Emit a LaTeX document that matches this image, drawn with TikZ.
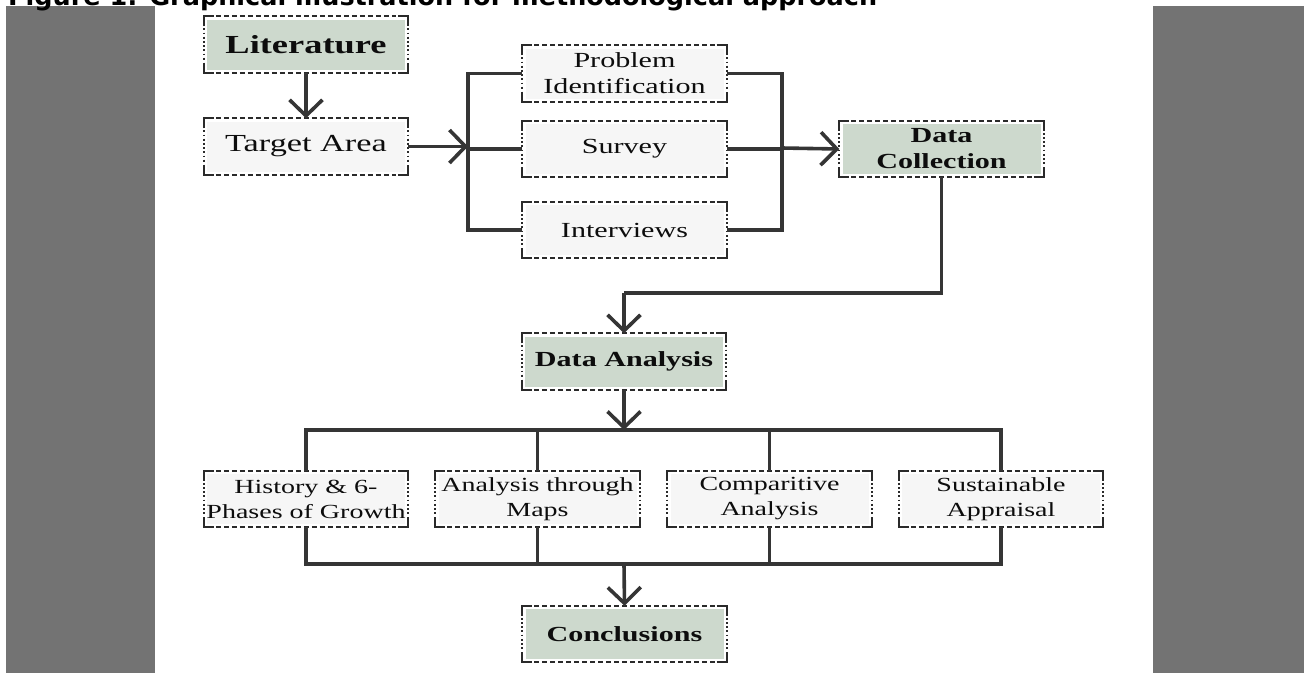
\documentclass[tikz,border=0pt]{standalone}
\usepackage{fontspec}
\setmainfont{Liberation Serif}[FakeStretch=1.4]
\newfontfamily\titlefont{DejaVu Sans}
\usetikzlibrary{arrows.meta,calc}
\definecolor{barc}{HTML}{737373}
\definecolor{lnc}{HTML}{353535}
\definecolor{frc}{HTML}{2A2A2A}
\definecolor{plainfill}{HTML}{F6F6F6}
\definecolor{keyfill}{HTML}{CDD9CD}
\definecolor{txtc}{HTML}{0D0D0D}
\tikzset{
  inbox/.style={path picture={\fill[#1] ($(path picture bounding box.south west)+(3pt,3pt)$) rectangle ($(path picture bounding box.north east)+(-3pt,-3pt)$);}},
  box/.style={minimum width=204pt, minimum height=56pt, inner sep=0pt, align=center,
    text=txtc, fill=white, font=\fontsize{21.5}{26}\selectfont},
  plainbox/.style={box, inbox=plainfill},
  keybox/.style={box, inbox=keyfill, font=\bfseries\fontsize{21.5}{26}\selectfont},
  ln/.style={draw=lnc, line width=3.6pt},
  arr/.style={ln, -{Straight Barb[length=16pt,width=33pt]}},
  frsolid/.style={draw=frc, line width=1.7pt},
  frdash/.style={draw=frc, line width=1.7pt, dash pattern=on 5pt off 3pt},
  frdot/.style={draw=frc, line width=1.7pt, dash pattern=on 1.8pt off 2.4pt}
}
\begin{document}
\begin{tikzpicture}[x=1pt,y=-1pt]
\useasboundingbox (0,0) rectangle (1304,673);
\clip (0,0) rectangle (1304,673);
\fill[barc] (6,6) rectangle (155,673);
\fill[barc] (1153,6) rectangle (1304,673);
\node[anchor=base west, inner sep=0pt, font=\titlefont\bfseries\fontsize{25.5}{25.5}\selectfont] (title) at (8,5) {Figure 1: Graphical illustration for methodological approach};

% nodes
\node[keybox, font=\bfseries\fontsize{26}{30}\selectfont] (lit) at (306,44.5) {Literature};
\node[plainbox, font=\fontsize{24.5}{28}\selectfont] (tgt) at (306,146.5) {Target Area};
\node[plainbox] (prob) at (624.5,73.5) {Problem\\Identification};
\node[plainbox] (surv) at (624.5,149) {Survey};
\node[plainbox] (intv) at (624.5,230) {Interviews};
\node[keybox] (dc) at (941.5,149) {Data\\Collection};
\node[keybox] (da) at (624,361.5) {Data Analysis};
\node[plainbox, font=\fontsize{20}{25}\selectfont] (hist) at (306,499) {History \& 6-\\Phases of Growth};
\node[plainbox, font=\fontsize{20}{25}\selectfont] (maps) at (537.5,499) {Analysis through\\Maps};
\node[plainbox, font=\fontsize{20}{25}\selectfont] (comp) at (769.5,499) {Comparitive\\Analysis};
\node[plainbox, font=\fontsize{20}{25}\selectfont] (sust) at (1001,499) {Sustainable\\Appraisal};
\node[keybox] (conc) at (624.5,634) {Conclusions};

% frames
\foreach \n in {lit,tgt,prob,surv,intv,dc,da,hist,maps,comp,sust,conc}{
  \draw[frsolid] ($(\n.north west)+(0,-10pt)$) -- (\n.north west) -- ($(\n.north west)+(10pt,0)$);
  \draw[frsolid] ($(\n.north east)+(-10pt,0)$) -- (\n.north east) -- ($(\n.north east)+(0,-10pt)$);
  \draw[frsolid] ($(\n.south west)+(0,10pt)$) -- (\n.south west) -- ($(\n.south west)+(10pt,0)$);
  \draw[frsolid] ($(\n.south east)+(-10pt,0)$) -- (\n.south east) -- ($(\n.south east)+(0,10pt)$);
  \draw[frdash] ($(\n.north west)+(12pt,0)$) -- ($(\n.north east)+(-12pt,0)$);
  \draw[frdash] ($(\n.south west)+(12pt,0)$) -- ($(\n.south east)+(-12pt,0)$);
  \draw[frdot] ($(\n.north west)+(0,-12pt)$) -- ($(\n.south west)+(0,12pt)$);
  \draw[frdot] ($(\n.north east)+(0,-12pt)$) -- ($(\n.south east)+(0,12pt)$);
}

% connector points
\coordinate (bl) at (468,148);
\coordinate (br) at (782,148);
\coordinate (m1) at (624,293);
\coordinate (ub) at (624,430);
\coordinate (lb) at (624,564);

% connectors
\draw[arr] (lit.south) -- (tgt.north);
\draw[arr] (tgt.east) -- (tgt.east -| bl);
\draw[ln] (prob.west) -- (prob.west -| bl) -- (intv.west -| bl) -- (intv.west);
\draw[ln] (surv.west -| bl) -- (surv.west);
\draw[ln] (prob.east) -- (prob.east -| br) -- (intv.east -| br) -- (intv.east);
\draw[ln] (surv.east) -- (surv.east -| br);
\draw[arr] (br) -- (dc.west);
\draw[ln] (dc.south) |- (m1);
\draw[arr] (m1) -- (da.north);
\draw[arr] (da.south) -- (ub);
\draw[ln] (hist.north) |- (ub) -| (sust.north);
\draw[ln] (maps.north) -- (maps.north |- ub);
\draw[ln] (comp.north) -- (comp.north |- ub);
\draw[ln] (hist.south) |- (lb) -| (sust.south);
\draw[ln] (maps.south) -- (maps.south |- lb);
\draw[ln] (comp.south) -- (comp.south |- lb);
\draw[arr] (lb) -- (conc.north);
\end{tikzpicture}
\end{document}
